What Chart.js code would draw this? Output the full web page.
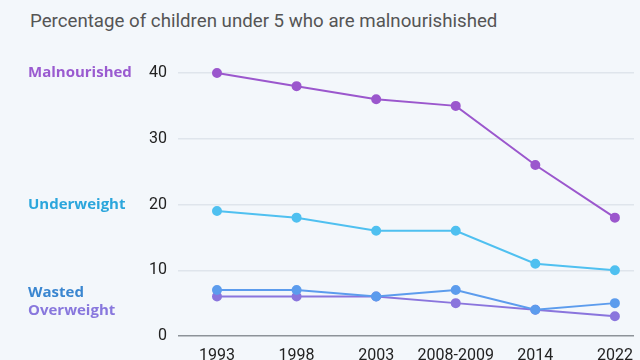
<!DOCTYPE html>
<html>
<head>
<meta charset="utf-8">
<script src="https://cdn.jsdelivr.net/npm/chart.js@4"></script>
<style>
  html, body { margin: 0; padding: 0; background: #f3f7fb; overflow: hidden; }
  #wrap { position: relative; width: 640px; height: 360px; }
  #sub { position: absolute; left: 30px; top: 10px; font: 18.7px Roboto, sans-serif; color: #555; }
  #c { position: absolute; left: 0; top: 0; }
</style>
</head>
<body>
<div id="wrap">
  <div id="sub">Percentage of children under 5 who are malnourishished</div>
  <canvas id="c" width="640" height="360"></canvas>
</div>
<script>
"use strict";
const years = ["1993", "1998", "2003", "2008-2009", "2014", "2022"];
const malnourished = [40, 38, 36, 35, 26, 18];
const underweight = [19, 18, 16, 16, 11, 10];
const wasted = [7, 7, 6, 7, 4, 5];
const overweight = [6, 6, 6, 5, 4, 3];
const yTicks = [0, 10, 20, 30, 40];

// series names sit in the left margin, level with these values
const SERIES = [
  { name: "Malnourished", data: malnourished, line: "#9b57cd", text: "#9a5bd0", labelAt: 40 },
  { name: "Underweight", data: underweight, line: "#4fc0f0", text: "#2ba6dc", labelAt: 20 },
  { name: "Wasted", data: wasted, line: "#5c9ced", text: "#3a86d0", labelAt: 6.6 },
  { name: "Overweight", data: overweight, line: "#8a75dd", text: "#8877dd", labelAt: 3.8 },
];

const sideLabels = {
  id: "sideLabels",
  afterDraw(chart) {
    const { ctx, scales: { y } } = chart;
    ctx.save();
    ctx.font = "bold 15px 'Open Sans', sans-serif";
    ctx.textBaseline = "middle";
    ctx.textAlign = "left";
    for (const s of SERIES) {
      ctx.fillStyle = s.text;
      ctx.fillText(s.name, 28, y.getPixelForValue(s.labelAt));
    }
    ctx.restore();
  },
};

new Chart(document.getElementById("c"), {
  type: "line",
  data: {
    datasets: SERIES.map((s) => ({
      label: s.name,
      data: s.data.map((v, i) => ({ x: i, y: v })),
      borderColor: s.line, backgroundColor: s.line,
      borderWidth: 2, pointRadius: 4, pointHoverRadius: 4, tension: 0, clip: false,
    })),
  },
  options: {
    responsive: false, animation: false,
    layout: { padding: { top: 73, left: 0, right: 0, bottom: 0 } },
    plugins: { legend: { display: false }, tooltip: { enabled: false } },
    scales: {
      x: {
        type: "linear", min: -0.49, max: 5.24,
        afterBuildTicks: (s) => { s.ticks = years.map((_, i) => ({ value: i })); },
        afterFit: (s) => { s.height = 24; s.paddingLeft = 0; s.paddingRight = 0; },
        grid: { display: false }, border: { display: false },
        ticks: { callback: (v) => years[v], color: "#222", padding: 2,
          font: { family: "Roboto", size: 16 }, maxRotation: 0, autoSkip: false },
      },
      y: {
        min: 0, max: 40,
        afterBuildTicks: (s) => { s.ticks = yTicks.map((v) => ({ value: v })); },
        afterFit: (s) => { s.width = 178; s.paddingTop = 0; s.paddingBottom = 0; },
        border: { display: false },
        grid: { drawTicks: false, lineWidth: 1.5,
          color: (c) => (c.tick && c.tick.value === 0 ? "#8d9399" : "#dfe5ec") },
        ticks: { color: "#222", padding: 11, font: { family: "Roboto", size: 16 } },
      },
    },
  },
  plugins: [sideLabels],
});
</script>
</body>
</html>
